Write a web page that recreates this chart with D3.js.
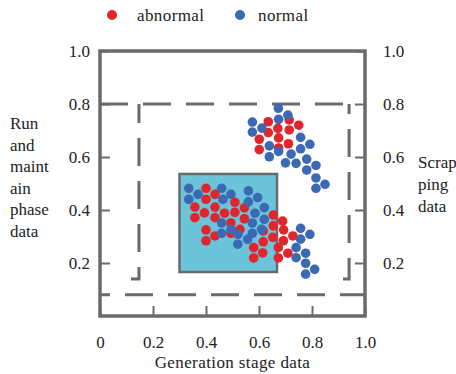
<!DOCTYPE html>
<html>
<head>
<meta charset="utf-8">
<script src="https://cdn.jsdelivr.net/npm/d3@7"></script>
<style>
  body { margin: 0; background: #fff; }
  text { font-family: "Liberation Serif", "Times New Roman", serif; fill: #222; }
</style>
</head>
<body>
<div id="chart"></div>
<script>
// series: [x, y] in data units
const abnormal = [
  [0.635, 0.733], [0.714, 0.740], [0.750, 0.720], [0.671, 0.708], [0.635, 0.692],
  [0.714, 0.702], [0.601, 0.667], [0.674, 0.672], [0.711, 0.650], [0.601, 0.628],
  [0.674, 0.634],
  [0.400, 0.482], [0.434, 0.459], [0.400, 0.440], [0.358, 0.411], [0.434, 0.411],
  [0.509, 0.429], [0.358, 0.371], [0.394, 0.389], [0.434, 0.371], [0.470, 0.388],
  [0.509, 0.391], [0.545, 0.408], [0.545, 0.367], [0.494, 0.351], [0.400, 0.325],
  [0.400, 0.284], [0.434, 0.302], [0.494, 0.312], [0.528, 0.327], [0.654, 0.381],
  [0.689, 0.358], [0.654, 0.340], [0.693, 0.325], [0.616, 0.321], [0.652, 0.297],
  [0.616, 0.280], [0.692, 0.284], [0.728, 0.302], [0.673, 0.258], [0.580, 0.258],
  [0.614, 0.238], [0.580, 0.219], [0.673, 0.219], [0.709, 0.237]
];
const normal = [
  [0.673, 0.784], [0.709, 0.758], [0.575, 0.732], [0.674, 0.742], [0.575, 0.694],
  [0.611, 0.709], [0.757, 0.674], [0.792, 0.648], [0.639, 0.642], [0.674, 0.621],
  [0.757, 0.631], [0.721, 0.611], [0.639, 0.601], [0.780, 0.592], [0.700, 0.578],
  [0.740, 0.576], [0.815, 0.568], [0.780, 0.551], [0.815, 0.521], [0.849, 0.497],
  [0.815, 0.482],
  [0.335, 0.482], [0.335, 0.440], [0.370, 0.459], [0.459, 0.482], [0.464, 0.440],
  [0.494, 0.459], [0.560, 0.472], [0.560, 0.431], [0.595, 0.447], [0.620, 0.409],
  [0.585, 0.388], [0.620, 0.365], [0.459, 0.351], [0.459, 0.312], [0.494, 0.327],
  [0.520, 0.308], [0.520, 0.271], [0.575, 0.351], [0.575, 0.312], [0.610, 0.327],
  [0.557, 0.289], [0.757, 0.331], [0.792, 0.308], [0.757, 0.290], [0.740, 0.258],
  [0.776, 0.237], [0.740, 0.220], [0.776, 0.199], [0.810, 0.176], [0.776, 0.158]
];
const xTicks = [0, 0.2, 0.4, 0.6, 0.8, 1.0];
const yTicks = [0.2, 0.4, 0.6, 0.8, 1.0];
// highlighted box [x0, x1, y0, y1]
const coreBox = [0.30, 0.668, 0.166, 0.536];
// dashed boundaries
const innerLeft = 0.147, innerRight = 0.94, innerTop = 0.8, innerBottom = 0.14;
const outerBottom = 0.08;

const width = 456, height = 374;
const margin = { top: 51, right: 91, bottom: 58, left: 100 };

const svg = d3.select("#chart").append("svg")
  .attr("width", width)
  .attr("height", height);

const x = d3.scaleLinear().domain([0, 1]).range([margin.left, width - margin.right]);
const y = d3.scaleLinear().domain([0, 1]).range([height - margin.bottom, margin.top]);

const gray = "#6a6a6a";
const fmt = d3.format(".1f");

// frame
svg.append("rect")
  .attr("x", x(0)).attr("y", y(1))
  .attr("width", x(1) - x(0)).attr("height", y(0) - y(1))
  .attr("fill", "none").attr("stroke", gray).attr("stroke-width", 3.5);

// axes with inner ticks
function styleAxis(g) {
  g.select(".domain").remove();
  g.selectAll(".tick line").attr("stroke", gray).attr("stroke-width", 2);
  g.selectAll(".tick text")
    .attr("font-family", "Liberation Serif, serif")
    .attr("font-size", 17).attr("fill", "#222");
}

svg.append("g")
  .attr("transform", `translate(${x(0)},0)`)
  .call(d3.axisLeft(y).tickValues(yTicks).tickFormat(fmt).tickSize(-10).tickPadding(10))
  .call(styleAxis);

svg.append("g")
  .attr("transform", `translate(${x(1)},0)`)
  .call(d3.axisRight(y).tickValues(yTicks).tickFormat(fmt).tickSize(-10).tickPadding(18))
  .call(styleAxis);

svg.append("g")
  .attr("transform", `translate(0,${y(0)})`)
  .call(d3.axisBottom(x).tickValues(xTicks).tickFormat(d => d === 0 ? "0" : fmt(d)).tickSize(-10).tickPadding(20))
  .call(styleAxis);

// dashed boundaries
const line = d3.line().x(d => x(d[0])).y(d => y(d[1]));
const dashed = [
  { pts: [[0, innerTop], [innerRight, innerTop]], off: 0 },
  { pts: [[innerLeft, innerTop], [innerLeft, innerBottom], [innerLeft - 0.03, innerBottom]], off: 9 },
  { pts: [[innerRight, innerTop], [innerRight, innerBottom], [innerRight - 0.023, innerBottom]], off: 18 },
  { pts: [[0, outerBottom], [1, outerBottom]], off: 18 }
];
svg.selectAll(".dash")
  .data(dashed)
  .enter()
  .append("path")
  .attr("class", "dash")
  .attr("d", d => line(d.pts))
  .attr("fill", "none")
  .attr("stroke", gray)
  .attr("stroke-width", 3)
  .attr("stroke-dasharray", "28,15")
  .attr("stroke-dashoffset", d => d.off);

// core box
svg.append("rect")
  .attr("x", x(coreBox[0])).attr("y", y(coreBox[3]))
  .attr("width", x(coreBox[1]) - x(coreBox[0]))
  .attr("height", y(coreBox[2]) - y(coreBox[3]))
  .attr("fill", "#6bc4d9").attr("stroke", gray).attr("stroke-width", 2.5);

// points
const red = "#e0252c", blue = "#3c69b4";
svg.selectAll(".abn")
  .data(abnormal)
  .enter()
  .append("circle")
  .attr("class", "abn")
  .attr("cx", d => x(d[0])).attr("cy", d => y(d[1]))
  .attr("r", 4.8).attr("fill", red);

svg.selectAll(".nor")
  .data(normal)
  .enter()
  .append("circle")
  .attr("class", "nor")
  .attr("cx", d => x(d[0])).attr("cy", d => y(d[1]))
  .attr("r", 4.8).attr("fill", blue);

// legend
const legend = [{ name: "abnormal", color: red, cx: 112, tx: 137 }, { name: "normal", color: blue, cx: 240, tx: 258 }];
const lg = svg.selectAll(".legend").data(legend).enter().append("g");
lg.append("circle").attr("cx", d => d.cx).attr("cy", 15).attr("r", 5).attr("fill", d => d.color);
lg.append("text").attr("x", d => d.tx).attr("y", 21)
  .attr("font-size", 17).attr("letter-spacing", 0.4).text(d => d.name);

// axis titles
svg.append("text")
  .attr("x", (x(0) + x(1)) / 2).attr("y", 368)
  .attr("text-anchor", "middle").attr("font-size", 17).attr("letter-spacing", 0.4)
  .text("Generation stage data");

const leftTitle = ["Run", "and", "maint", "ain", "phase", "data"];
svg.append("text")
  .attr("font-size", 17)
  .selectAll("tspan").data(leftTitle).enter().append("tspan")
  .attr("x", 10).attr("y", (d, i) => 129 + i * 21.6)
  .text(d => d);

const rightTitle = ["Scrap", "ping", "data"];
svg.append("text")
  .attr("font-size", 17)
  .selectAll("tspan").data(rightTitle).enter().append("tspan")
  .attr("x", 418).attr("y", (d, i) => 168 + i * 22)
  .text(d => d);
</script>
</body>
</html>
